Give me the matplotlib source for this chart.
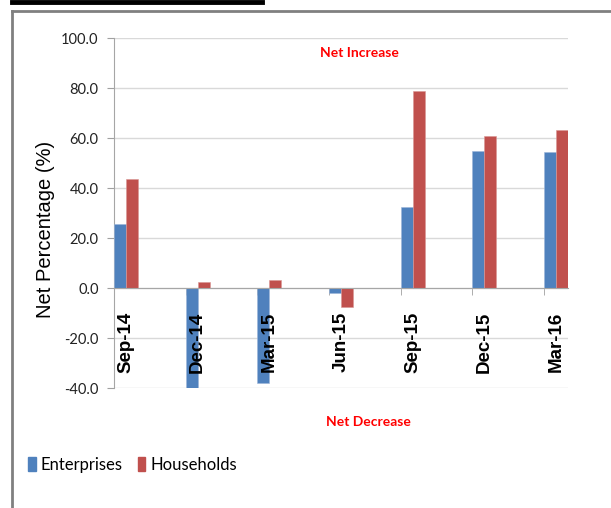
import matplotlib
matplotlib.use("Agg")
import matplotlib.pyplot as plt
from matplotlib.patches import Patch
from matplotlib.lines import Line2D
import numpy as np

categories = ["Sep-14", "Dec-14", "Mar-15", "Jun-15", "Sep-15", "Dec-15", "Mar-16"]
enterprises = [25.6, -40.0, -38.1, -2.1, 32.3, 54.8, 54.4]
households = [43.8, 2.3, 3.2, -7.7, 78.9, 60.8, 63.2]
yticks = [100, 80, 60, 40, 20, 0, -20, -40]
ytick_labels = ["100.0", "80.0", "60.0", "40.0", "20.0", "0.0", "-20.0", "-40.0"]

BLUE = "#4F81BD"
RED = "#C0504D"
W, H = 611, 508
FONT = "Lato"

fig = plt.figure(figsize=(W / 100, H / 100), dpi=100)
ax = fig.add_axes([114 / W, (H - 388) / H, (568 - 114) / W, (388 - 38) / H])

for s in ["top", "right"]:
    ax.spines[s].set_visible(False)
ax.spines["bottom"].set_position(("data", 0))
ax.spines["bottom"].set_color("#a6a6a6")
ax.spines["left"].set_color("#a6a6a6")
ax.spines["bottom"].set_zorder(4)

x = np.arange(len(categories))
bw = 1 / 6
ax.bar(x + bw / 2, enterprises, width=bw, color=BLUE, edgecolor="#9db6d9", linewidth=0.4, zorder=3)
ax.bar(x + 1.5 * bw, households, width=bw, color=RED, edgecolor="#d99694", linewidth=0.4, zorder=3)

ax.set_xlim(0, len(categories) - 1 + 2 * bw)
ax.set_ylim(-40, 100)
ax.set_yticks(yticks)
ax.set_yticklabels(ytick_labels, fontfamily=FONT, fontsize=10.5, color="#222222")
ax.yaxis.grid(True, color="#d9d9d9", linewidth=1, zorder=0)
ax.tick_params(axis="y", length=5, color="#a0a0a0", pad=6)

ax.set_xticks(x, minor=True)
ax.set_xticks([])
ax.tick_params(axis="x", which="minor", length=5, color="#a0a0a0", direction="out")

# category labels drawn above the bars, just below the zero line
for xi, cat in zip(x, categories):
    ax.annotate(cat, xy=(xi + bw, 0), xytext=(0, -24), textcoords="offset pixels",
                rotation=90, va="top", ha="center", fontfamily="Liberation Sans",
                fontweight="bold", fontsize=13.5, zorder=6, annotation_clip=False)

ax.set_ylabel("Net Percentage (%)", fontfamily="Liberation Sans", fontsize=14.5)
ax.yaxis.set_label_coords(-(114 - 55) / (568 - 114), (388 - 229) / 350)

fig.text(359 / W, 1 - 53 / H, "Net Increase", color="red", fontfamily=FONT, fontweight="bold",
         fontsize=10, ha="center", va="center")
fig.text(368 / W, 1 - 422 / H, "Net Decrease", color="red", fontfamily=FONT, fontweight="bold",
         fontsize=10, ha="center", va="center")

handles = [Patch(color=BLUE, label="Enterprises"), Patch(color=RED, label="Households")]
fig.legend(handles=handles, loc="center left", bbox_to_anchor=(28 / W, 1 - 465 / H), frameon=False,
           ncol=2, prop={"family": FONT, "size": 12}, handlelength=0.45, handleheight=0.9,
           handletextpad=0.3, columnspacing=0.9, borderaxespad=0, borderpad=0)

# outer frame lines and top black bar
fig.add_artist(Line2D([12 / W, 1], [1 - 11 / H, 1 - 11 / H], color="#808080", linewidth=2, transform=fig.transFigure))
fig.add_artist(Line2D([12 / W, 12 / W], [0, 1 - 11 / H], color="#808080", linewidth=2, transform=fig.transFigure))
fig.add_artist(Line2D([12 / W, 262 / W], [1 - 2 / H, 1 - 2 / H], color="black", linewidth=3.5, transform=fig.transFigure))

fig.savefig("out.png", dpi=100)
